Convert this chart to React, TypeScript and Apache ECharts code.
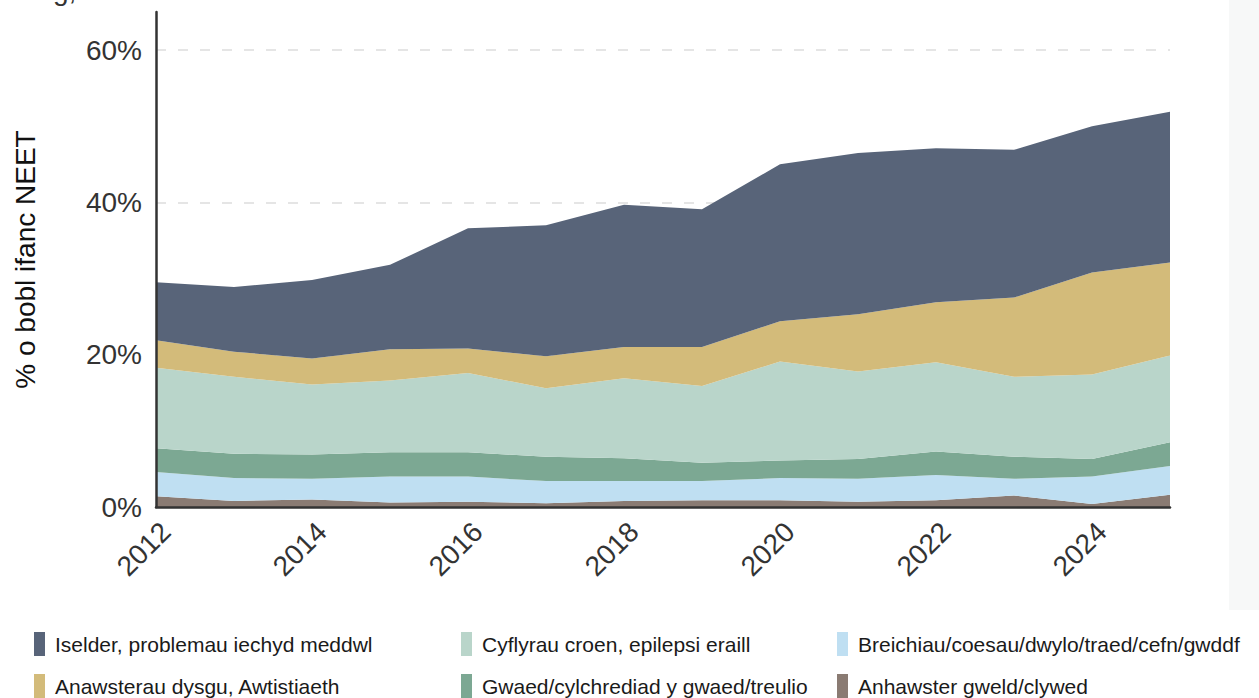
import React, { useEffect, useRef } from "react";
import * as echarts from "echarts";

const years = ["2012", "2013", "2014", "2015", "2016", "2017", "2018", "2019", "2020", "2021", "2022", "2023", "2024", "2025"];
const yTicks = [0, 20, 40, 60];

const anhawster = [1.4, 0.8, 1.0, 0.6, 0.7, 0.5, 0.8, 0.9, 0.9, 0.7, 0.9, 1.5, 0.4, 1.6];
const breichiau = [3.2, 3.0, 2.7, 3.4, 3.3, 2.9, 2.6, 2.5, 2.9, 3.0, 3.3, 2.2, 3.6, 3.8];
const gwaed = [3.1, 3.2, 3.2, 3.2, 3.2, 3.2, 3.0, 2.4, 2.3, 2.6, 3.1, 2.9, 2.3, 3.1];
const cyflyrau = [10.6, 10.1, 9.2, 9.4, 10.4, 9.0, 10.5, 10.1, 13.0, 11.5, 11.7, 10.5, 11.1, 11.4];
const anawsterau = [3.6, 3.3, 3.4, 4.1, 3.2, 4.2, 4.1, 5.1, 5.3, 7.5, 7.9, 10.4, 13.4, 12.2];
const iselder = [7.6, 8.5, 10.3, 11.1, 15.8, 17.2, 18.7, 18.1, 20.6, 21.2, 20.2, 19.4, 19.2, 19.8];

const names = {
  anhawster: "Anhawster gweld/clywed",
  breichiau: "Breichiau/coesau/dwylo/traed/cefn/gwddf",
  gwaed: "Gwaed/cylchrediad y gwaed/treulio",
  cyflyrau: "Cyflyrau croen, epilepsi eraill",
  anawsterau: "Anawsterau dysgu, Awtistiaeth",
  iselder: "Iselder, problemau iechyd meddwl",
};

const colors = {
  anhawster: "#8a7b73",
  breichiau: "#bfdff2",
  gwaed: "#7ca893",
  cyflyrau: "#b9d5ca",
  anawsterau: "#d3bb7a",
  iselder: "#586479",
};

const FONT = "Liberation Sans, Arial, sans-serif";

export default function App() {
  const ref = useRef<HTMLDivElement>(null);
  useEffect(() => {
    if (!ref.current) return;
    const chart = echarts.init(ref.current, null, { renderer: "svg" });
    const mk = (key: keyof typeof names, data: number[]) => ({
      name: names[key],
      type: "line",
      stack: "total",
      data,
      symbol: "none",
      showSymbol: false,
      lineStyle: { width: 0, color: colors[key] },
      itemStyle: { color: colors[key] },
      areaStyle: { color: colors[key], opacity: 1 },
      emphasis: { disabled: true },
    });
    const legendBase = {
      orient: "vertical",
      top: 632,
      height: 70,
      padding: 0,
      itemGap: 18,
      itemWidth: 11,
      itemHeight: 24,
      icon: "rect",
      selectedMode: false,
      textStyle: { fontSize: 21, color: "#1a1a1a", fontFamily: FONT, padding: [0, 0, 0, 5] },
    };
    chart.setOption({
      animation: false,
      grid: { left: 156, right: 89, top: 12, bottom: 191, containLabel: false },
      graphic: [
        { type: "rect", shape: { x: 1229, y: 0, width: 30, height: 610 }, style: { fill: "#f7f8f8" }, z: -10 },
        { type: "text", x: 53, y: 4, style: { text: "g,", fontSize: 28, fill: "#333", fontFamily: FONT, verticalAlign: "bottom" } },
      ],
      legend: [
        { ...legendBase, left: 34, data: [names.iselder, names.anawsterau] },
        { ...legendBase, left: 461, data: [names.cyflyrau, names.gwaed] },
        { ...legendBase, left: 837, data: [names.breichiau, names.anhawster] },
      ],
      xAxis: {
        type: "category",
        data: years,
        boundaryGap: false,
        axisLine: { lineStyle: { color: "#333", width: 2.5 } },
        axisTick: { show: false },
        axisLabel: {
          interval: 1,
          rotate: 45,
          fontSize: 28,
          color: "#333",
          fontFamily: FONT,
          margin: 10,
          verticalAlign: "top",
        },
        splitLine: { show: false },
        z: 3,
      },
      yAxis: {
        type: "value",
        min: 0,
        max: 65,
        interval: 20,
        name: "% o bobl ifanc NEET",
        nameLocation: "middle",
        nameRotate: 90,
        nameGap: 117,
        nameTextStyle: { fontSize: 28, color: "#111", fontFamily: FONT },
        axisLine: { show: true, lineStyle: { color: "#333", width: 2.5 } },
        axisTick: { show: false },
        axisLabel: {
          fontSize: 28,
          color: "#333",
          fontFamily: FONT,
          margin: 14,
          showMaxLabel: false,
          formatter: (v: number) => (yTicks.includes(v) ? v + "%" : ""),
        },
        splitLine: {
          show: true,
          showMinLine: false,
          showMaxLine: false,
          lineStyle: { color: "rgba(0,0,0,0.1)", width: 2, type: [10, 12] },
        },
        z: 3,
      },
      series: [
        mk("anhawster", anhawster),
        mk("breichiau", breichiau),
        mk("gwaed", gwaed),
        mk("cyflyrau", cyflyrau),
        mk("anawsterau", anawsterau),
        mk("iselder", iselder),
      ],
    });
    return () => chart.dispose();
  }, []);
  return <div ref={ref} style={{ position: "absolute", left: 0, top: 0, width: 1259, height: 698 }} />;
}
